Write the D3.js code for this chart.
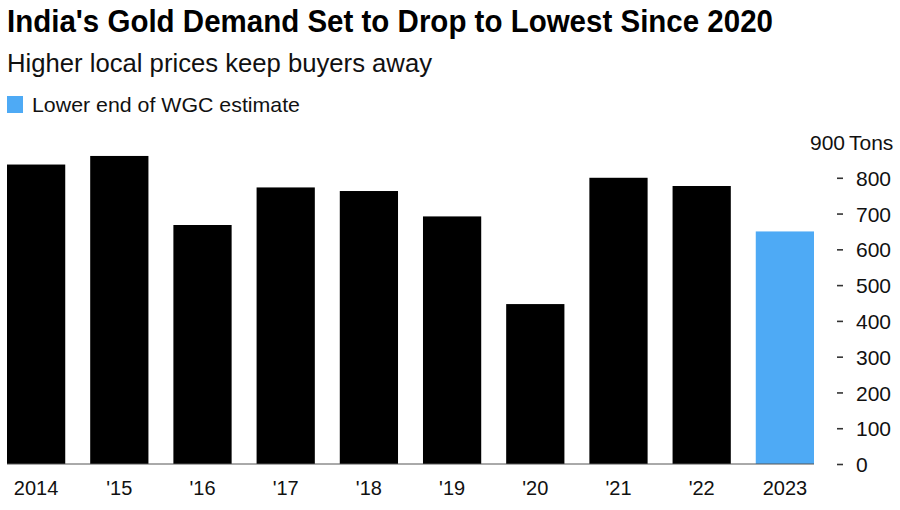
<!DOCTYPE html>
<html>
<head>
<meta charset="utf-8">
<script src="https://cdn.jsdelivr.net/npm/d3@7"></script>
<style>
  html, body { margin: 0; padding: 0; background: #fff; }
  svg { display: block; font-family: "Liberation Sans", Arial, Helvetica, sans-serif; }
</style>
</head>
<body>
<svg id="chart" width="900" height="510"></svg>
<script>
const years = ["2014", "'15", "'16", "'17", "'18", "'19", "'20", "'21", "'22", "2023"];
const demand = [837, 861, 668, 773, 763, 692, 447, 800, 777, 650];
const isEstimate = [false, false, false, false, false, false, false, false, false, true];
const yTicks = [0, 100, 200, 300, 400, 500, 600, 700, 800, 900];

const title = "India's Gold Demand Set to Drop to Lowest Since 2020";
const subtitle = "Higher local prices keep buyers away";
const legendLabel = "Lower end of WGC estimate";
const unitLabel = "Tons";

const BLACK = "#000000";
const BLUE = "#4eaaf5";

const svg = d3.select("#chart");

svg.append("rect").attr("width", 900).attr("height", 510).attr("fill", "#fff");

// Title & subtitle
svg.append("text")
  .attr("x", 7).attr("y", 32)
  .attr("font-size", 31).attr("font-weight", "bold").attr("fill", "#000")
  .attr("textLength", 766).attr("lengthAdjust", "spacingAndGlyphs")
  .text(title);

svg.append("text")
  .attr("x", 7).attr("y", 72)
  .attr("font-size", 26).attr("fill", "#111")
  .attr("textLength", 425).attr("lengthAdjust", "spacingAndGlyphs")
  .text(subtitle);

// Legend
svg.append("rect")
  .attr("x", 7).attr("y", 96).attr("width", 16).attr("height", 17)
  .attr("fill", BLUE);
svg.append("text")
  .attr("x", 32).attr("y", 112)
  .attr("font-size", 21).attr("fill", "#111")
  .attr("textLength", 268).attr("lengthAdjust", "spacingAndGlyphs")
  .text(legendLabel);

// Scales
const x = d3.scaleBand()
  .domain(years)
  .range([7, 814])
  .paddingInner(0.3)
  .paddingOuter(0);

const y = d3.scaleLinear()
  .domain([0, 900])
  .range([464, 142]);

// Bars
svg.append("g").selectAll("rect")
  .data(years.map((yr, i) => ({ yr, v: demand[i], est: isEstimate[i] })))
  .join("rect")
  .attr("x", d => x(d.yr))
  .attr("y", d => y(d.v))
  .attr("width", x.bandwidth())
  .attr("height", d => y(0) - y(d.v))
  .attr("fill", d => d.est ? BLUE : BLACK);

// Baseline
svg.append("line")
  .attr("x1", 7).attr("x2", 814)
  .attr("y1", y(0)).attr("y2", y(0))
  .attr("stroke", "#555").attr("stroke-width", 1);

// X axis
const xAxis = d3.axisBottom(x).tickSize(0).tickPadding(0);
const gx = svg.append("g")
  .attr("transform", `translate(0, ${y(0)})`)
  .call(xAxis);
gx.select(".domain").remove();
gx.selectAll("text")
  .attr("y", 31)
  .attr("dy", 0)
  .attr("font-size", 20)
  .attr("font-family", "'Liberation Sans', Arial, sans-serif")
  .attr("fill", "#111");

// Y axis (right)
const yAxis = d3.axisRight(y)
  .tickValues(yTicks.filter(t => t < 900))
  .tickSize(0)
  .tickPadding(0);
const gy = svg.append("g")
  .attr("transform", "translate(837, 0)")
  .call(yAxis);
gy.select(".domain").remove();
gy.selectAll(".tick").append("line")
  .attr("x1", 0).attr("x2", 6)
  .attr("y1", 0).attr("y2", 0)
  .attr("stroke", "#333").attr("stroke-width", 1.6);
gy.selectAll(".tick text")
  .attr("x", 19)
  .attr("dy", "0.36em")
  .attr("font-size", 21)
  .attr("font-family", "'Liberation Sans', Arial, sans-serif")
  .attr("fill", "#111");

// Top tick label with unit
const topVal = yTicks[yTicks.length - 1];
svg.append("text")
  .attr("x", 845).attr("y", y(topVal))
  .attr("dy", "0.36em")
  .attr("text-anchor", "end")
  .attr("font-size", 21).attr("fill", "#111")
  .text(topVal);
svg.append("text")
  .attr("x", 849).attr("y", y(topVal))
  .attr("dy", "0.36em")
  .attr("font-size", 21).attr("fill", "#111")
  .text(unitLabel);
</script>
</body>
</html>
